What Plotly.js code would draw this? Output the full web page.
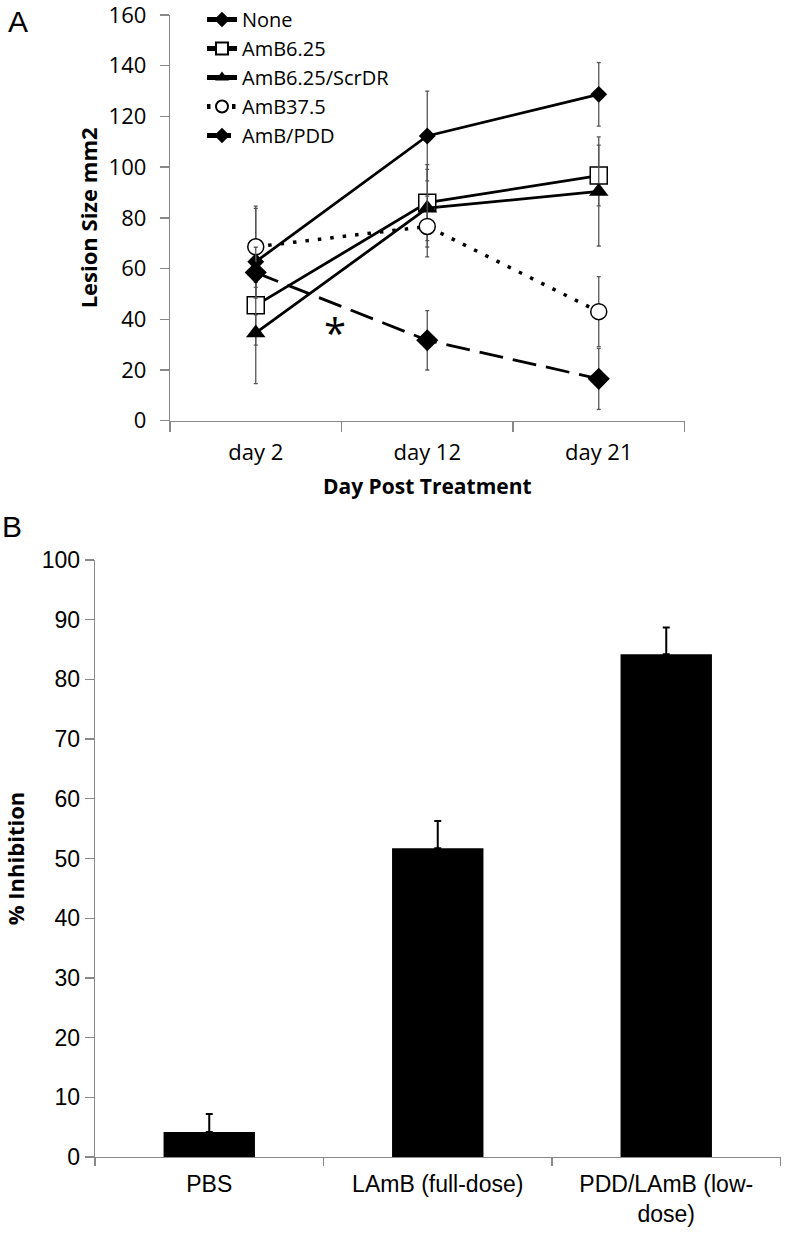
<!DOCTYPE html>
<html><head><meta charset="utf-8">
<script src="https://cdn.plot.ly/plotly-3.0.1.min.js"></script>
<style>html,body{margin:0;padding:0;background:#fff}</style>
</head><body><div id="chart" style="width:786px;height:1234px"></div>
<script>
// Panel A data
const days = ['day 2', 'day 12', 'day 21'];
const noneVals = [62.7, 112.3, 128.7];
const noneErr = [21, 17.7, 12.5];
const amb625Vals = [45.5, 86, 96.7];
const amb625Err = [15.7, 15, 12];
const scrVals = [34.6, 83.8, 90.4];
const scrErr = [20, 15.3, 21.5];
const amb375Vals = [68.6, 76.6, 43];
const amb375Err = [16, 12, 13.8];
const pddVals = [58.4, 31.7, 16.5];
const pddErr = [10, 11.7, 12];

// Panel B data
const groups = ['PBS', 'LAmB (full-dose)', 'PDD/LAmB (low-dose)'];
const groupLabels = ['PBS', 'LAmB (full-dose)', 'PDD/LAmB (low-<br>dose)'];
const inhibition = [4.2, 51.7, 84.2];
const inhibitionErr = [3.0, 4.6, 4.5];

const fA = 'Open Sans, Noto Sans, sans-serif';
const fB = 'Liberation Sans, Arial, sans-serif';
const errStyle = arr => ({type: 'data', array: arr, visible: true, color: '#555', thickness: 1.3, width: 2});

const traces = [
  {name: 'None', x: days, y: noneVals, error_y: errStyle(noneErr), mode: 'lines+markers',
   line: {color: '#000', width: 2.8}, marker: {symbol: 'diamond', size: 13, color: '#000'}},
  {name: 'AmB6.25', x: days, y: amb625Vals, error_y: errStyle(amb625Err), mode: 'lines+markers',
   line: {color: '#000', width: 2.8}, marker: {symbol: 'square', size: 17, color: '#fff', line: {color: '#000', width: 1.5}}},
  {name: 'AmB6.25/ScrDR', x: days, y: scrVals, error_y: errStyle(scrErr), mode: 'lines+markers',
   line: {color: '#000', width: 2.8}, marker: {symbol: 'triangle-up', size: 17, color: '#000'}},
  {name: 'AmB37.5', x: days, y: amb375Vals, error_y: errStyle(amb375Err), mode: 'lines+markers',
   line: {color: '#000', width: 3.5, dash: '3.5px,9px'}, marker: {symbol: 'circle', size: 16, color: '#fff', line: {color: '#000', width: 1.5}}},
  {name: 'AmB/PDD', x: days, y: pddVals, error_y: errStyle(pddErr), mode: 'lines+markers',
   line: {color: '#000', width: 2.8, dash: '24px,10px'}, marker: {symbol: 'diamond', size: 17, color: '#000'}},
  {name: '% Inhibition', x: groups, y: inhibition, type: 'bar', xaxis: 'x2', yaxis: 'y2', showlegend: false,
   marker: {color: '#000'},
   error_y: {type: 'data', array: inhibitionErr, symmetric: false, arrayminus: [0, 0, 0], visible: true, color: '#000', thickness: 2, width: 3.5}}
];

const axCommon = {showline: true, linecolor: '#888', linewidth: 1.3, ticks: 'outside', tickcolor: '#888', tickwidth: 1.3,
  showgrid: false, zeroline: false, fixedrange: true, ticklabeloverflow: 'allow'};

const layout = {
  width: 786, height: 1234,
  margin: {l: 0, r: 0, t: 0, b: 0},
  paper_bgcolor: '#fff', plot_bgcolor: 'rgba(0,0,0,0)',
  showlegend: true,
  bargap: 0.6,
  legend: {x: 202/786, xanchor: 'left', y: 1, yanchor: 'top', bgcolor: 'rgba(0,0,0,0)',
    font: {family: fA, size: 20, color: '#000'}, itemsizing: 'constant', tracegroupgap: 0},
  xaxis: Object.assign({}, axCommon, {domain: [170/786, 684.5/786], anchor: 'y', type: 'category',
    range: [-0.5, 2.5], tickson: 'boundaries', ticklen: 10, ticklabelstandoff: 12,
    tickfont: {family: fA, size: 22, color: '#000'},
    title: {text: '<b>Day Post Treatment</b>', font: {family: fA, size: 21, color: '#000'}, standoff: 14}}),
  yaxis: Object.assign({}, axCommon, {domain: [1 - 420.7/1234, 1 - 15/1234], anchor: 'x',
    range: [0, 160], dtick: 20, ticklen: 9, ticklabelstandoff: 9,
    tickfont: {family: fA, size: 22, color: '#000'},
    title: {text: '<b>Lesion Size mm2</b>', font: {family: fA, size: 22, color: '#000'}, standoff: 4}}),
  xaxis2: Object.assign({}, axCommon, {domain: [95/786, 780.5/786], anchor: 'y2', type: 'category',
    range: [-0.5, 2.5], tickson: 'boundaries', ticklen: 8, ticklabelstandoff: 6,
    tickvals: groups, ticktext: groupLabels,
    tickfont: {family: fB, size: 23, color: '#000'}}),
  yaxis2: Object.assign({}, axCommon, {domain: [1 - 1157/1234, 1 - 560/1234], anchor: 'x2',
    range: [0, 100], dtick: 10, ticklen: 9,
    tickfont: {family: fB, size: 23, color: '#000'},
    title: {text: '<b>% Inhibition</b>', font: {family: fA, size: 22, color: '#000'}, standoff: 14}}),
  annotations: [
    {text: 'A', xref: 'paper', yref: 'paper', x: 6/786, y: 1 - 3/1234, xanchor: 'left', yanchor: 'top',
     showarrow: false, font: {family: fB, size: 30, color: '#000'}},
    {text: 'B', xref: 'paper', yref: 'paper', x: 0, y: 1 - 508/1234, xanchor: 'left', yanchor: 'top',
     showarrow: false, font: {family: fB, size: 30, color: '#000'}},
    {text: '*', xref: 'x', yref: 'y', x: 0.46, y: 34.7, xanchor: 'center', yanchor: 'middle',
     showarrow: false, font: {family: fA, size: 40, color: '#000'}}
  ]
};

Plotly.newPlot('chart', traces, layout, {displayModeBar: false, staticPlot: true});
</script>
</body></html>
